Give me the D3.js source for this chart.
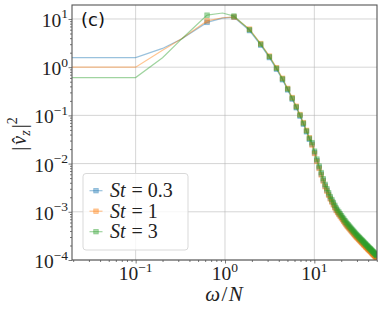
<!DOCTYPE html>
<html>
<head>
<meta charset="utf-8">
<script src="https://cdn.jsdelivr.net/npm/d3@7"></script>
<style>
body { margin: 0; background: #fff; }
</style>
</head>
<body>
<svg id="chart" width="382" height="312"></svg>
<script>
// marker frequencies (omega / N)
var omega = [0.63, 1.26, 1.88, 2.51, 3.14, 3.77, 4.40, 5.03, 5.65, 6.28,
	6.91, 7.54, 8.17, 8.80, 9.42, 10.05, 10.68, 11.31, 11.94, 12.57,
	13.19, 13.82, 14.45, 15.08, 15.71, 16.34, 16.96, 17.59, 18.22, 18.85,
	19.48, 20.11, 20.73, 21.36, 21.99, 22.62, 23.25, 23.88, 24.50, 25.13,
	25.76, 26.39, 27.02, 27.65, 28.27, 28.90, 29.53, 30.16, 30.79, 31.42,
	32.04, 32.67, 33.30, 33.93, 34.56, 35.19, 35.81, 36.44, 37.07, 37.70,
	38.33, 38.96, 39.58, 40.21, 40.84, 41.47, 42.10, 42.73, 43.35, 43.98,
	44.61, 45.24, 45.87, 46.50, 47.12, 47.75, 48.38, 49.01, 49.64, 50.27];

var stBlue = [8.5, 10.9, 5.74, 2.87, 1.58, 0.909, 0.548, 0.338, 0.218, 0.144,
	0.0967, 0.0658, 0.0456, 0.0319, 0.0253, 0.0168, 0.0115, 0.00826, 0.00605, 0.00451,
	0.00344, 0.00280, 0.00230, 0.00192, 0.00166, 0.00145, 0.00126, 0.00110, 0.00100, 0.000916,
	0.000839, 0.000771, 0.000711, 0.000656, 0.000608, 0.000565, 0.000528, 0.000499, 0.000471, 0.000446,
	0.000422, 0.000400, 0.000381, 0.000362, 0.000345, 0.000329, 0.000314, 0.000302, 0.000290, 0.000279,
	0.000268, 0.000258, 0.000249, 0.000240, 0.000232, 0.000224, 0.000216, 0.000209, 0.000203, 0.000196,
	0.000189, 0.000184, 0.000178, 0.000173, 0.000168, 0.000163, 0.000159, 0.000155, 0.000151, 0.000147,
	0.000142, 0.000138, 0.000135, 0.000132, 0.000128, 0.000126, 0.000122, 0.000120, 0.000116, 0.000113];

var stOrange = [9.12, 11.0, 6.17, 3.09, 1.70, 0.977, 0.589, 0.363, 0.234, 0.155,
	0.104, 0.0708, 0.0490, 0.0343, 0.0243, 0.0162, 0.0111, 0.00794, 0.00582, 0.00434,
	0.00331, 0.00269, 0.00221, 0.00185, 0.00160, 0.00139, 0.00121, 0.00106, 0.000964, 0.000881,
	0.000807, 0.000741, 0.000684, 0.000631, 0.000585, 0.000543, 0.000508, 0.000480, 0.000453, 0.000429,
	0.000406, 0.000385, 0.000366, 0.000348, 0.000332, 0.000316, 0.000302, 0.000290, 0.000279, 0.000268,
	0.000258, 0.000248, 0.000239, 0.000231, 0.000223, 0.000215, 0.000208, 0.000201, 0.000195, 0.000188,
	0.000182, 0.000177, 0.000171, 0.000166, 0.000162, 0.000157, 0.000153, 0.000149, 0.000145, 0.000141,
	0.000137, 0.000133, 0.000130, 0.000127, 0.000123, 0.000121, 0.000117, 0.000115, 0.000112, 0.000109];

var stGreen = [12.0, 11.5, 5.98, 3.00, 1.65, 0.948, 0.571, 0.352, 0.227, 0.150,
	0.101, 0.0687, 0.0475, 0.0333, 0.0272, 0.0181, 0.0124, 0.00889, 0.00652, 0.00486,
	0.00371, 0.00301, 0.00248, 0.00207, 0.00179, 0.00156, 0.00136, 0.00119, 0.00108, 0.000987,
	0.000904, 0.000830, 0.000766, 0.000707, 0.000655, 0.000608, 0.000569, 0.000538, 0.000507, 0.000480,
	0.000455, 0.000431, 0.000410, 0.000390, 0.000372, 0.000354, 0.000338, 0.000325, 0.000312, 0.000300,
	0.000289, 0.000278, 0.000268, 0.000259, 0.000250, 0.000241, 0.000233, 0.000225, 0.000218, 0.000211,
	0.000204, 0.000198, 0.000192, 0.000186, 0.000181, 0.000176, 0.000171, 0.000167, 0.000162, 0.000158,
	0.000153, 0.000149, 0.000146, 0.000142, 0.000138, 0.000136, 0.000131, 0.000129, 0.000125, 0.000122];

// extra points of the lines that carry no marker
var lineOmega = [0.0194, 0.1, 0.2, 0.33, 0.94];
var lineBlue = [1.58, 1.58, 2.45, 3.9, 10.4];
var lineOrange = [1.0, 1.0, 2.25, 3.95, 10.6];
var lineGreen = [0.61, 0.61, 1.57, 3.9, 13.3];

var stNames = ["0.3", "1", "3"];

var xMajor = [0.1, 1, 10];
var xTickExp = ["\u22121", "0", "1"];
var yMajor = [1e-4, 1e-3, 1e-2, 1e-1, 1, 10];
var yTickExp = ["\u22124", "\u22123", "\u22122", "\u22121", "0", "1"];

var serif = "Liberation Serif, DejaVu Serif, serif";

var svg = d3.select("#chart");
var x = d3.scaleLog().domain([0.0194, 50.27]).range([72, 377]);
var y = d3.scaleLog().domain([1e-4, 19.5]).range([260, 5]);

svg.append("defs").append("clipPath").attr("id", "plotclip")
	.append("rect").attr("x", 72).attr("y", 5).attr("width", 305).attr("height", 255);

// grid
var grid = svg.append("g");
grid.selectAll("line.gx").data(xMajor).enter().append("line")
	.attr("x1", function(d) {return x(d)}).attr("x2", function(d) {return x(d)})
	.attr("y1", 5).attr("y2", 260)
	.attr("stroke", "#b0b0b0").attr("stroke-opacity", 0.6).attr("stroke-width", 0.9);
grid.selectAll("line.gy").data(yMajor).enter().append("line")
	.attr("y1", function(d) {return y(d)}).attr("y2", function(d) {return y(d)})
	.attr("x1", 72).attr("x2", 377)
	.attr("stroke", "#b0b0b0").attr("stroke-opacity", 0.6).attr("stroke-width", 0.9);

// series
var series = [
	{name: stNames[0], color: "#1f77b4", marks: stBlue, extra: lineBlue},
	{name: stNames[1], color: "#ff7f0e", marks: stOrange, extra: lineOrange},
	{name: stNames[2], color: "#2ca02c", marks: stGreen, extra: lineGreen}
];

var plot = svg.append("g").attr("clip-path", "url(#plotclip)");
var line = d3.line().x(function(d) {return x(d[0])}).y(function(d) {return y(d[1])});

series.forEach(function(s) {
	var marks = omega.map(function(w, i) {return [w, s.marks[i]]});
	var pts = lineOmega.map(function(w, i) {return [w, s.extra[i]]}).concat(marks);
	pts.sort(function(a, b) {return a[0] - b[0]});

	plot.append("path").datum(pts)
		.attr("d", line)
		.attr("fill", "none")
		.attr("stroke", s.color)
		.attr("stroke-opacity", 0.45)
		.attr("stroke-width", 1.2);

	plot.append("g").selectAll("rect").data(marks).enter().append("rect")
		.attr("x", function(d) {return x(d[0]) - 2.3})
		.attr("y", function(d) {return y(d[1]) - 2.3})
		.attr("width", 4.6).attr("height", 4.6)
		.attr("fill", s.color).attr("fill-opacity", 0.4)
		.attr("stroke", s.color).attr("stroke-opacity", 0.4).attr("stroke-width", 0.8);
});

// frame
svg.append("rect").attr("x", 72).attr("y", 5).attr("width", 305).attr("height", 255)
	.attr("fill", "none").attr("stroke", "#555").attr("stroke-width", 1.1);

// ticks
var xMinor = [], yMinor = [];
[0.01, 0.1, 1, 10].forEach(function(dec) {
	for (var m = 2; m < 10; m++) {
		var v = m * dec;
		if (v > 0.0194 && v < 50.27) xMinor.push(v);
	}
});
[1e-4, 1e-3, 1e-2, 1e-1, 1, 10].forEach(function(dec) {
	for (var m = 2; m < 10; m++) {
		var v = m * dec;
		if (v < 19.5) yMinor.push(v);
	}
});

function styleAxis(g) {
	g.select(".domain").remove();
	g.selectAll("line").attr("stroke", "#555").attr("stroke-width", 0.8);
}
svg.append("g").attr("transform", "translate(0,260)")
	.call(d3.axisBottom(x).tickValues(xMajor).tickSize(3.5).tickFormat("")).call(styleAxis);
svg.append("g").attr("transform", "translate(0,260)")
	.call(d3.axisBottom(x).tickValues(xMinor).tickSize(2).tickFormat("")).call(styleAxis);
svg.append("g").attr("transform", "translate(72,0)")
	.call(d3.axisLeft(y).tickValues(yMajor).tickSize(3.5).tickFormat("")).call(styleAxis);
svg.append("g").attr("transform", "translate(72,0)")
	.call(d3.axisLeft(y).tickValues(yMinor).tickSize(2).tickFormat("")).call(styleAxis);

// tick labels
xMajor.forEach(function(d, i) {
	var t = svg.append("text")
		.attr("x", x(d)).attr("y", 280)
		.attr("text-anchor", "middle")
		.attr("font-family", serif).attr("font-size", 19.5).attr("fill", "#222");
	t.append("tspan").text("10");
	t.append("tspan").attr("dy", -8).attr("font-size", 13.5).text(xTickExp[i]);
});
yMajor.forEach(function(d, i) {
	var t = svg.append("text")
		.attr("x", 68).attr("y", y(d) + 8)
		.attr("text-anchor", "end")
		.attr("font-family", serif).attr("font-size", 19.5).attr("fill", "#222");
	t.append("tspan").text("10");
	t.append("tspan").attr("dy", -8.5).attr("font-size", 13.5).text(yTickExp[i]);
});

// axis titles
var xl = svg.append("text").attr("x", 224).attr("y", 301).attr("text-anchor", "middle")
	.attr("font-family", serif).attr("font-size", 21).attr("fill", "#222");
xl.append("tspan").attr("font-style", "italic").text("\u03c9");
xl.append("tspan").attr("dx", 1.5).text("/");
xl.append("tspan").attr("dx", 1.5).attr("font-style", "italic").text("N");

var yl = svg.append("text").attr("transform", "translate(26,134) rotate(-90)")
	.attr("text-anchor", "middle")
	.attr("font-family", serif).attr("font-size", 20).attr("fill", "#222");
yl.append("tspan").text("|");
yl.append("tspan").attr("dx", 2).attr("font-style", "italic").text("v\u0302");
yl.append("tspan").attr("dy", 4).attr("font-size", 14).attr("font-style", "italic").text("z");
yl.append("tspan").attr("dx", 2).attr("dy", -4).text("|");
yl.append("tspan").attr("dy", -9).attr("font-size", 14).text("2");

// panel label
svg.append("text").attr("x", 81).attr("y", 26)
	.attr("font-family", "DejaVu Sans, sans-serif").attr("font-size", 18).attr("fill", "#111")
	.text("(c)");

// legend
var lg = svg.append("g");
lg.append("rect").attr("x", 83).attr("y", 173.5).attr("width", 105).attr("height", 76.5)
	.attr("rx", 3).attr("fill", "#fff").attr("fill-opacity", 0.8)
	.attr("stroke", "#d5d5d5").attr("stroke-width", 0.9);
series.forEach(function(s, i) {
	var cy = 190.7 + i * 20.5;
	lg.append("line").attr("x1", 89.5).attr("x2", 102.5).attr("y1", cy).attr("y2", cy)
		.attr("stroke", s.color).attr("stroke-opacity", 0.45).attr("stroke-width", 1.2);
	lg.append("rect").attr("x", 96 - 2.3).attr("y", cy - 2.3).attr("width", 4.6).attr("height", 4.6)
		.attr("fill", s.color).attr("fill-opacity", 0.4)
		.attr("stroke", s.color).attr("stroke-opacity", 0.4).attr("stroke-width", 0.8);
	var t = lg.append("text").attr("x", 110).attr("y", cy + 6.5)
		.attr("font-family", serif).attr("font-size", 20).attr("fill", "#222");
	t.append("tspan").attr("font-style", "italic").text("St");
	t.append("tspan").attr("dx", 6).text("=");
	t.append("tspan").attr("dx", 5).text(s.name);
});
</script>
</body>
</html>
